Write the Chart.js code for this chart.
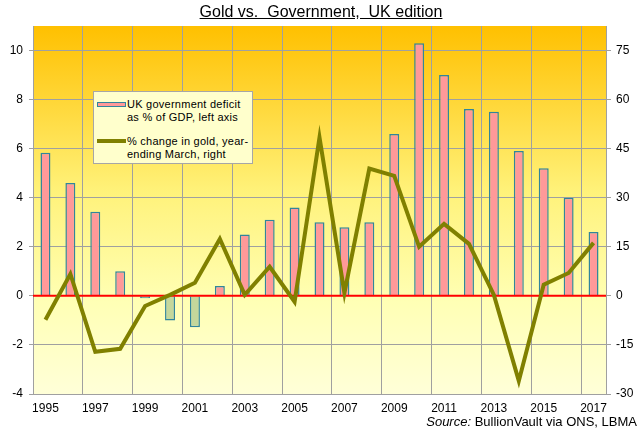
<!DOCTYPE html>
<html>
<head>
<meta charset="utf-8">
<script src="https://cdn.jsdelivr.net/npm/chart.js@4/dist/chart.umd.min.js"></script>
<style>
  body { margin: 0; background: #fff; font-family: "Liberation Sans", Arial, sans-serif; }
  #wrap { position: relative; width: 642px; height: 440px; }
  #title { position: absolute; top: 3px; left: 0; width: 642px; text-align: center; font-size: 16px; text-decoration: underline; white-space: pre; color: #000; }
  #source { position: absolute; right: 5px; top: 414px; font-size: 13px; color: #000; }
  #legend { position: absolute; left: 93px; top: 91px; width: 158px; height: 71px; background: #FFFFCC; border: 1px solid #A6A6A6; font-size: 11px; color: #000; letter-spacing: 0.25px; }
  .sw { position: absolute; left: 3px; width: 29px; }
  .txt { position: absolute; left: 33px; line-height: 12.5px; white-space: pre; }
</style>
</head>
<body>
<div id="wrap">
  <canvas id="chart" width="642" height="440"></canvas>
  <div id="title">Gold vs.  Government,  UK edition</div>
  <div id="legend">
    <div class="sw" style="top:10px;height:3px;background:#FF9999;border:1px solid #31859C;width:27px;"></div>
    <div class="txt" style="top:6px;">UK government deficit
as % of GDP, left axis</div>
    <div class="sw" style="top:47px;height:4px;background:#808000;"></div>
    <div class="txt" style="top:43px;">% change in gold, year-
ending March, right</div>
  </div>
  <div id="source"><i>Source:</i> BullionVault via ONS, LBMA</div>
</div>
<script>
const years = ['1995','1996','1997','1998','1999','2000','2001','2002','2003','2004','2005','2006',
  '2007','2008','2009','2010','2011','2012','2013','2014','2015','2016','2017'];
const deficitPct = [5.83, 4.6, 3.43, 1.0, -0.1, -1.0, -1.28, 0.4, 2.5, 3.1, 3.6, 3.0,
  2.8, 3.0, 6.6, 10.3, 9.0, 7.62, 7.5, 5.9, 5.2, 4.0, 2.6];
const goldChange = [-7.3, 6.7, -17.1, -16.2, -3.1, 0.3, 4.0, 17.4, 0.3, 8.9, -1.8, 48.4,
  0.9, 38.9, 36.7, 15.0, 22.0, 15.9, 0.3, -26.0, 3.4, 7.0, 16.2];

const gridGray = '#a0a0a0';

const bgPlugin = {
  id: 'bg',
  beforeDraw(chart) {
    const { ctx, chartArea: a } = chart;
    const g = ctx.createLinearGradient(0, a.top, 0, a.bottom);
    g.addColorStop(0, '#FFC000');
    g.addColorStop(0.45, '#FFF27A');
    g.addColorStop(0.75, '#FFFFB5');
    g.addColorStop(1, '#FFFFD8');
    ctx.save();
    ctx.fillStyle = g;
    ctx.fillRect(a.left, a.top, a.right - a.left, a.bottom - a.top);
    ctx.restore();
  }
};

// red zero line, drawn over the bars but under the gold line
const zeroLine = {
  id: 'zeroLine',
  afterDatasetDraw(chart, args) {
    if (args.index !== 0) return;
    const { ctx, chartArea: a } = chart;
    const y = chart.scales.yL.getPixelForValue(0);
    ctx.save();
    ctx.strokeStyle = '#FF0000';
    ctx.lineWidth = 2;
    ctx.beginPath();
    ctx.moveTo(a.left, y);
    ctx.lineTo(a.right, y);
    ctx.stroke();
    ctx.restore();
  }
};

new Chart(document.getElementById('chart'), {
  type: 'bar',
  data: {
    labels: years,
    datasets: [{
      label: 'UK government deficit as % of GDP, left axis',
      data: deficitPct,
      yAxisID: 'yL',
      backgroundColor: deficitPct.map(v => v < 0 ? '#C4D79B' : '#FF9999'),
      borderColor: '#31859C',
      borderWidth: 1.5,
      barPercentage: 0.4,
      categoryPercentage: 1,
      order: 2
    }, {
      type: 'line',
      label: '% change in gold, year-ending March, right',
      data: goldChange,
      yAxisID: 'yR',
      borderColor: '#808000',
      borderWidth: 4,
      pointRadius: 0,
      tension: 0,
      order: 1
    }]
  },
  options: {
    responsive: false,
    animation: false,
    layout: { padding: { top: 26, left: 0, right: 0, bottom: 0 } },
    plugins: { legend: { display: false }, tooltip: { enabled: false } },
    scales: {
      x: {
        offset: true,
        grid: {
          offset: true,
          color: c => c.index % 2 === 0 ? gridGray : 'rgba(0,0,0,0)',
          drawTicks: false
        },
        border: { color: gridGray },
        ticks: {
          autoSkip: false,
          maxRotation: 0,
          color: '#000',
          font: { family: 'Liberation Sans', size: 12 },
          padding: 7,
          callback: (v, i) => i % 2 === 0 ? years[i] : ''
        },
        afterFit: s => { s.height = 46; }
      },
      yL: {
        position: 'left',
        min: -4, max: 11,
        grid: { color: gridGray, tickLength: 4 },
        border: { color: gridGray },
        ticks: {
          stepSize: 2,
          includeBounds: false,
          color: '#000',
          padding: 6,
          font: { family: 'Liberation Sans', size: 12 }
        },
        afterFit: s => { s.width = 33; }
      },
      yR: {
        position: 'right',
        min: -30, max: 82.5,
        grid: { drawOnChartArea: false, color: gridGray, tickLength: 5 },
        border: { color: gridGray },
        ticks: {
          stepSize: 15,
          includeBounds: false,
          color: '#000',
          padding: 5,
          font: { family: 'Liberation Sans', size: 12 }
        },
        afterFit: s => { s.width = 36; }
      }
    }
  },
  plugins: [bgPlugin, zeroLine]
});
</script>
</body>
</html>
